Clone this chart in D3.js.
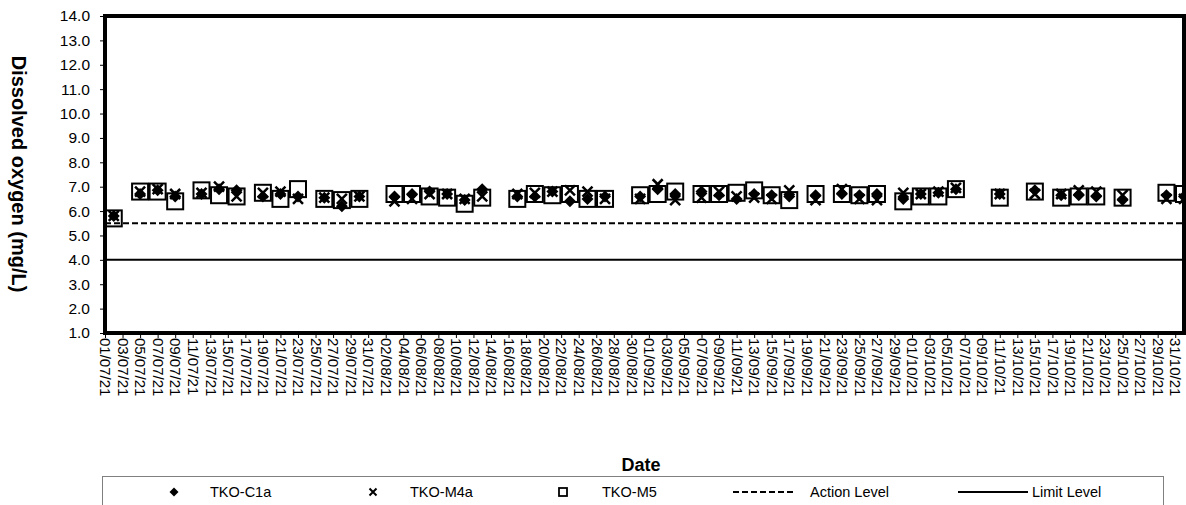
<!DOCTYPE html>
<html><head><meta charset="utf-8">
<script src="https://cdn.jsdelivr.net/npm/d3@7"></script>
<style>
html,body{margin:0;padding:0;background:#fff;}
svg{display:block;font-family:"Liberation Sans",Arial,sans-serif;}
</style></head>
<body><svg id="c" width="1186" height="505"></svg>
<script>
const dates = ["02/07/21","05/07/21","07/07/21","09/07/21","12/07/21","14/07/21","16/07/21","19/07/21","21/07/21","23/07/21","26/07/21","28/07/21","30/07/21",
"03/08/21","05/08/21","07/08/21","09/08/21","11/08/21","13/08/21","17/08/21","19/08/21","21/08/21","23/08/21","25/08/21","27/08/21","31/08/21",
"02/09/21","04/09/21","07/09/21","09/09/21","11/09/21","13/09/21","15/09/21","17/09/21","20/09/21","23/09/21","25/09/21","27/09/21","30/09/21",
"02/10/21","04/10/21","06/10/21","11/10/21","15/10/21","18/10/21","20/10/21","22/10/21","25/10/21","30/10/21","01/11/21"];
const tkoC1a = [5.8,6.7,6.85,6.6,6.7,6.9,6.85,6.6,6.7,6.6,6.55,6.2,6.6,
6.6,6.7,6.8,6.7,6.45,6.9,6.6,6.6,6.8,6.4,6.5,6.6,6.6,
6.9,6.7,6.8,6.65,6.5,6.7,6.65,6.6,6.65,6.7,6.65,6.7,6.5,
6.7,6.75,6.9,6.7,6.85,6.65,6.65,6.6,6.45,6.65,6.6];
const tkoM4a = [5.8,6.8,6.9,6.7,6.75,7.0,6.6,6.75,6.8,6.5,6.55,6.5,6.6,
6.4,6.5,6.7,6.7,6.5,6.6,6.7,6.75,6.8,6.85,6.8,6.5,6.5,
7.1,6.45,6.55,6.8,6.6,6.55,6.5,6.85,6.45,6.9,6.5,6.45,6.75,
6.7,6.8,6.95,6.7,6.7,6.7,6.85,6.8,6.65,6.5,6.5];
const tkoM5 = [5.7,6.8,6.8,6.4,6.85,6.65,6.6,6.75,6.5,6.9,6.5,6.45,6.5,
6.7,6.7,6.6,6.55,6.3,6.55,6.5,6.7,6.65,6.7,6.5,6.5,6.65,
6.7,6.8,6.7,6.7,6.75,6.85,6.65,6.45,6.7,6.7,6.65,6.7,6.4,
6.6,6.6,6.9,6.55,6.8,6.55,6.6,6.6,6.55,6.75,6.7];
const actionLevel = 5.5;
const limitLevel = 4.0;
const yTicks = [1,2,3,4,5,6,7,8,9,10,11,12,13,14];
const xStart = "01/07/21", xEnd = "01/11/21", xLastTick = "31/10/21";
const legendLabels = ["TKO-C1a","TKO-M4a","TKO-M5","Action Level","Limit Level"];

const parse = d3.utcParse("%d/%m/%y");
const fmt = d3.utcFormat("%d/%m/%y");
const svg = d3.select("#c");
const L = 105, R = 1184, T = 16, B = 333;
const x = d3.scaleUtc().domain([parse(xStart), parse(xEnd)]).range([L, R]);
const y = d3.scaleLinear().domain([1, 14]).range([B, T]);

// y axis
const ya = svg.append("g").attr("transform",`translate(${L},0)`)
  .call(d3.axisLeft(y).tickValues(yTicks).tickFormat(d3.format(".1f")).tickSize(5).tickPadding(10));
ya.select(".domain").remove();
ya.selectAll("line").attr("stroke","#000");
ya.selectAll("text").attr("font-size",15.5).attr("fill","#000").attr("font-family","Liberation Sans, Arial");

// x axis
const xTickVals = d3.utcDay.range(parse(xStart), d3.utcDay.offset(parse(xLastTick),1), 2);
const xa = svg.append("g").attr("transform",`translate(0,${B})`)
  .call(d3.axisBottom(x).tickValues(xTickVals).tickFormat(fmt).tickSize(5));
xa.select(".domain").remove();
xa.selectAll("line").attr("stroke","#000");
xa.selectAll("text").attr("font-size",15).attr("fill","#000").attr("font-family","Liberation Sans, Arial")
  .attr("text-anchor","start").attr("dy",null).attr("y",null)
  .attr("transform","translate(0,5) rotate(90)").attr("dy","0.35em");

// reference lines
svg.append("line").attr("x1",L).attr("x2",R).attr("y1",y(actionLevel)).attr("y2",y(actionLevel))
  .attr("stroke","#000").attr("stroke-width",2).attr("stroke-dasharray","6,3");
svg.append("line").attr("x1",L).attr("x2",R).attr("y1",y(limitLevel)).attr("y2",y(limitLevel))
  .attr("stroke","#000").attr("stroke-width",2);

// plot border
svg.append("rect").attr("x",L).attr("y",T).attr("width",R-L).attr("height",B-T)
  .attr("fill","none").attr("stroke","#000").attr("stroke-width",4);

// markers
const diamond = s => `M0,${-s}L${s},0L0,${s}L${-s},0Z`;
const crossPath = s => `M${-s},${-s}L${s},${s}M${-s},${s}L${s},${-s}`;
const pts = (arr) => arr.map((v,i)=>({d:parse(dates[i]), v}));
svg.append("g").selectAll("path").data(pts(tkoC1a)).join("path")
  .attr("transform",d=>`translate(${x(d.d)},${y(d.v)})`).attr("d",diamond(6)).attr("fill","#000");
svg.append("g").selectAll("path").data(pts(tkoM4a)).join("path")
  .attr("transform",d=>`translate(${x(d.d)},${y(d.v)})`).attr("d",crossPath(5)).attr("stroke","#000").attr("stroke-width",2.5).attr("fill","none");
svg.append("g").selectAll("rect").data(pts(tkoM5)).join("rect")
  .attr("x",d=>x(d.d)-8).attr("y",d=>y(d.v)-8).attr("width",16).attr("height",16)
  .attr("fill","none").attr("stroke","#000").attr("stroke-width",2);

// titles
svg.append("text").attr("transform","translate(12,174) rotate(90)").attr("text-anchor","middle")
  .attr("font-size",20).attr("font-weight","bold").text("Dissolved oxygen (mg/L)");
svg.append("text").attr("x",641).attr("y",471).attr("text-anchor","middle")
  .attr("font-size",18).attr("font-weight","bold").text("Date");

// legend
const lg = svg.append("g");
lg.append("rect").attr("x",102.5).attr("y",476.5).attr("width",1061).attr("height",40)
  .attr("fill","#fff").attr("stroke","#808080").attr("stroke-width",1);
const ly = 492;
lg.append("path").attr("transform",`translate(174,${ly})`).attr("d",diamond(4.5)).attr("fill","#000");
lg.append("path").attr("transform",`translate(373,${ly})`).attr("d",crossPath(3.5)).attr("stroke","#000").attr("stroke-width",2);
lg.append("rect").attr("x",559).attr("y",ly-4).attr("width",8).attr("height",8).attr("fill","none").attr("stroke","#000").attr("stroke-width",1.8);
lg.append("line").attr("x1",733).attr("x2",795).attr("y1",ly).attr("y2",ly).attr("stroke","#000").attr("stroke-width",2).attr("stroke-dasharray","6,3");
lg.append("line").attr("x1",958).attr("x2",1028).attr("y1",ly).attr("y2",ly).attr("stroke","#000").attr("stroke-width",2);
const lx = [210,410,602,810,1032];
lg.selectAll("text.l").data(legendLabels).join("text").attr("class","l")
  .attr("x",(d,i)=>lx[i]).attr("y",ly).attr("dy","0.35em").attr("font-size",14.5).text(d=>d);
</script></body></html>
